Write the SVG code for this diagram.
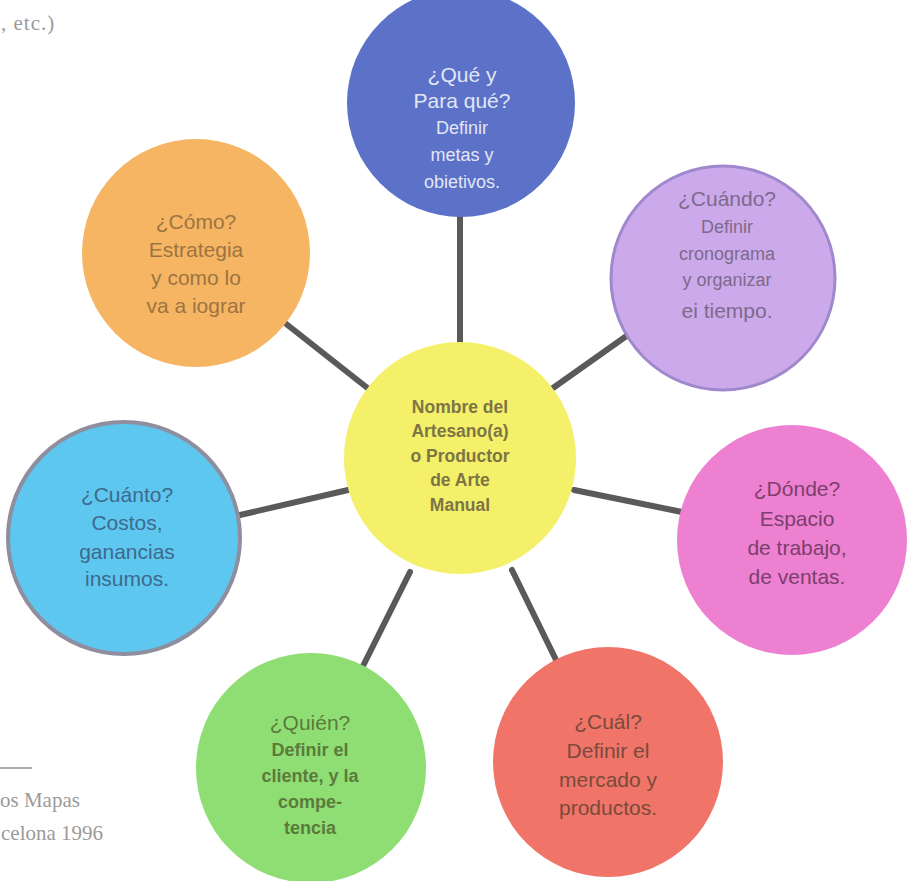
<svg xmlns="http://www.w3.org/2000/svg" width="914" height="881" viewBox="0 0 914 881">
<style>
.t{font-family:"Liberation Sans",Arial,sans-serif;text-anchor:middle}
.s{font-family:"Liberation Serif","Times New Roman",serif;fill:#9a9a9a;font-size:21px}
.c{stroke:#5a5a5a;stroke-width:6;stroke-linecap:round}
</style>
<rect width="914" height="881" fill="#ffffff"/>
<text class="s" x="1" y="30" font-size="24" letter-spacing="1">, etc.)</text>
<line x1="0" y1="768" x2="32" y2="768" stroke="#aaa" stroke-width="2"/>
<text class="s" x="0" y="807">os Mapas</text>
<text class="s" x="1" y="840">celona 1996</text>
<g id="connectors">
<line class="c" x1="460" y1="210" x2="460" y2="345"/>
<line class="c" x1="553" y1="388" x2="642" y2="325"/>
<line class="c" x1="285" y1="323" x2="370" y2="390"/>
<line class="c" x1="240" y1="515" x2="348" y2="490"/>
<line class="c" x1="574" y1="490" x2="682" y2="512"/>
<line class="c" x1="410" y1="572" x2="362" y2="668"/>
<line class="c" x1="512" y1="570" x2="560" y2="668"/>
</g>
<g id="center">
<circle cx="460" cy="458" r="116" fill="#f4f06a"/>
<g class="t" fill="#7d7545" font-size="17.5" font-weight="bold">
<text x="460" y="413">Nombre del</text>
<text x="460" y="437">Artesano(a)</text>
<text x="460" y="462">o Productor</text>
<text x="460" y="486">de Arte</text>
<text x="460" y="511">Manual</text>
</g>
</g>
<g id="que">
<circle cx="461" cy="103" r="114" fill="#5b72c8"/>
<g class="t" fill="#e2e6f5">
<text x="462" y="82" font-size="21">¿Qué y</text>
<text x="462" y="108" font-size="21">Para qué?</text>
<text x="462" y="134" font-size="18">Definir</text>
<text x="462" y="161" font-size="18">metas y</text>
<text x="462" y="188" font-size="18">obietivos.</text>
</g>
</g>
<g id="cuando">
<circle cx="723" cy="278" r="112" fill="#cba9ea" stroke="#a088cc" stroke-width="3"/>
<g class="t" fill="#7d6a8c">
<text x="727" y="206" font-size="21">¿Cuándo?</text>
<text x="727" y="233" font-size="18">Definir</text>
<text x="727" y="260" font-size="18">cronograma</text>
<text x="727" y="286" font-size="18">y organizar</text>
<text x="727" y="318" font-size="21">ei tiempo.</text>
</g>
</g>
<g id="como">
<circle cx="196" cy="253" r="114" fill="#f6b562"/>
<g class="t" fill="#9c7442" font-size="21">
<text x="196" y="229">¿Cómo?</text>
<text x="196" y="257">Estrategia</text>
<text x="196" y="285">y como lo</text>
<text x="196" y="313">va a iograr</text>
</g>
</g>
<g id="cuanto">
<circle cx="124" cy="538" r="116" fill="#5dc7f0" stroke="#8e8e9e" stroke-width="4"/>
<g class="t" fill="#3e6a8c" font-size="21">
<text x="127" y="502">¿Cuánto?</text>
<text x="127" y="530">Costos,</text>
<text x="127" y="559">ganancias</text>
<text x="127" y="586">insumos.</text>
</g>
</g>
<g id="donde">
<circle cx="792" cy="540" r="115" fill="#ee80d2"/>
<g class="t" fill="#7a3f6c" font-size="21">
<text x="797" y="496">¿Dónde?</text>
<text x="797" y="526">Espacio</text>
<text x="797" y="555">de trabajo,</text>
<text x="797" y="584">de ventas.</text>
</g>
</g>
<g id="quien">
<circle cx="311" cy="768" r="115" fill="#8fde74"/>
<g class="t" fill="#5b7a3b">
<text x="310" y="730" font-size="21">¿Quién?</text>
<text x="310" y="756" font-size="18" font-weight="bold">Definir el</text>
<text x="310" y="782" font-size="18" font-weight="bold">cliente, y la</text>
<text x="310" y="808" font-size="18" font-weight="bold">compe-</text>
<text x="310" y="834" font-size="18" font-weight="bold">tencia</text>
</g>
</g>
<g id="cual">
<circle cx="608" cy="762" r="115" fill="#f07468"/>
<g class="t" fill="#7a4a3c" font-size="21">
<text x="608" y="729">¿Cuál?</text>
<text x="608" y="758">Definir el</text>
<text x="608" y="787">mercado y</text>
<text x="608" y="815">productos.</text>
</g>
</g>
</svg>
